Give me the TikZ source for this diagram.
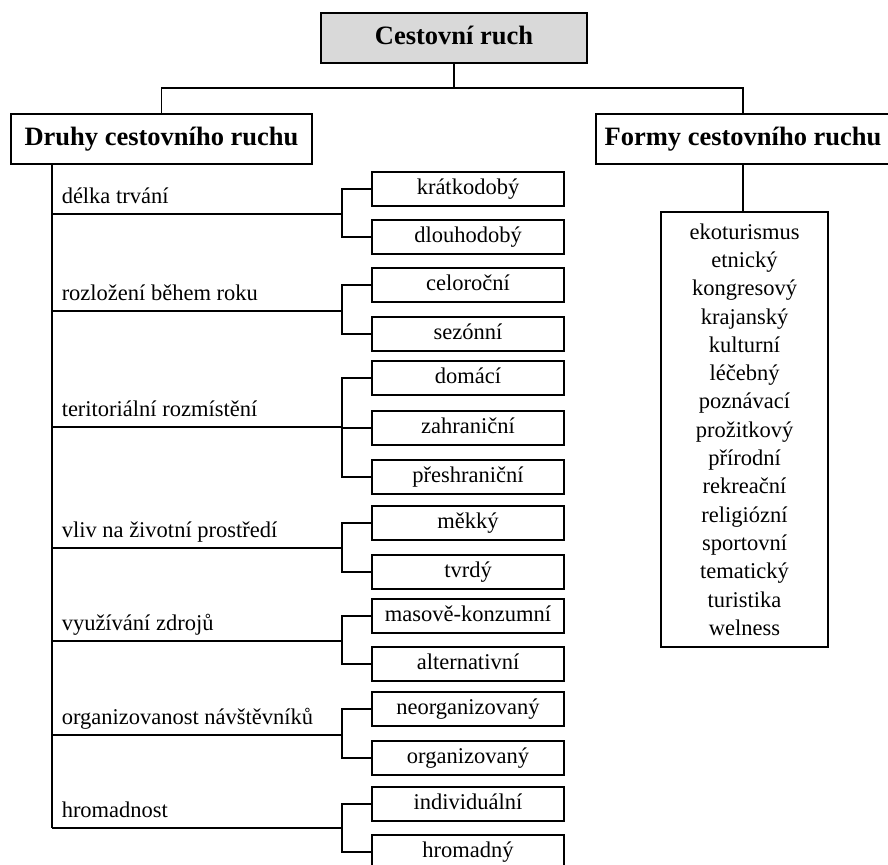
\documentclass[tikz,border=0pt]{standalone}
\usepackage{fontspec}
\setmainfont{Liberation Serif}
\definecolor{boxgray}{RGB}{217,217,217}
\begin{document}
\begin{tikzpicture}[x=1pt,y=-1pt,line width=1.5pt,
  box/.style={draw, line width=1.5pt, inner sep=0pt, minimum height=34pt, minimum width=192pt, text height=16pt, text depth=5pt, font=\fontsize{22.5}{27}\selectfont},
  head/.style={draw, line width=1.5pt, inner sep=0pt, text height=18pt, text depth=5pt, font=\fontsize{26.5}{31}\selectfont\bfseries},
  lab/.style={anchor=base west, inner sep=0pt, font=\fontsize{22.5}{27}\selectfont}]
\useasboundingbox (0,0) rectangle (888,864);
% heads
\node[head, fill=boxgray, minimum width=266pt, minimum height=50pt] (root) at (454,38) {Cestovní ruch};
\node[head, minimum width=301pt, minimum height=50pt] (druhy) at (161.5,139) {Druhy cestovního ruchu};
\node[head, minimum width=294pt, minimum height=50pt] (formy) at (743,139) {Formy cestovního ruchu};
\coordinate (jn) at (454,88);
\draw (root.south) -- (jn);
\draw (druhy.north) |- (jn) -| (formy.north);
% forms list
\node[draw, line width=1.5pt, inner sep=0pt, minimum width=167pt, minimum height=435pt, align=center,
  font=\fontsize{22.5}{28.3}\selectfont] (list) at (744.5,429.5)
  {ekoturismus\\etnický\\kongresový\\krajanský\\kulturní\\léčebný\\poznávací\\prožitkový\\přírodní\\rekreační\\religiózní\\sportovní\\tematický\\turistika\\welness};
\draw (formy.south) -- (formy.south |- list.north);
% trunk
\coordinate (t0) at (52,164);
\coordinate (t1) at (52,828);
\draw (t0) -- (t1);
% categories
\coordinate (c1) at (52,214); \coordinate (b1) at (342,214);
\coordinate (c2) at (52,311); \coordinate (b2) at (342,311);
\coordinate (c3) at (52,427); \coordinate (b3) at (342,427);
\coordinate (c4) at (52,548); \coordinate (b4) at (342,548);
\coordinate (c5) at (52,641); \coordinate (b5) at (342,641);
\coordinate (c6) at (52,735); \coordinate (b6) at (342,735);
\coordinate (c7) at (52,828); \coordinate (b7) at (342,828);
\node[lab] (l1) at (61,203) {délka trvání};
\node[lab] (l2) at (61,300) {rozložení během roku};
\node[lab] (l3) at (61,416) {teritoriální rozmístění};
\node[lab] (l4) at (61,537) {vliv na životní prostředí};
\node[lab] (l5) at (61,630) {využívání zdrojů};
\node[lab] (l6) at (61,724) {organizovanost návštěvníků};
\node[lab] (l7) at (61,817) {hromadnost};
\foreach \i in {1,...,7} \draw (c\i) -- (b\i);
% leaf boxes
\node[box] (k11) at (468,189) {krátkodobý};
\node[box] (k12) at (468,237) {dlouhodobý};
\node[box] (k21) at (468,285) {celoroční};
\node[box] (k22) at (468,334) {sezónní};
\node[box] (k31) at (468,378) {domácí};
\node[box] (k32) at (468,428) {zahraniční};
\node[box] (k33) at (468,477) {přeshraniční};
\node[box] (k41) at (468,523) {měkký};
\node[box] (k42) at (468,572) {tvrdý};
\node[box] (k51) at (468,616) {masově-konzumní};
\node[box] (k52) at (468,664) {alternativní};
\node[box] (k61) at (468,709) {neorganizovaný};
\node[box] (k62) at (468,758) {organizovaný};
\node[box] (k71) at (468,804) {individuální};
\node[box] (k72) at (468,852) {hromadný};
\draw (b1) |- (k11.west); \draw (b1) |- (k12.west);
\draw (b2) |- (k21.west); \draw (b2) |- (k22.west);
\draw (b3) |- (k31.west); \draw (b3) |- (k32.west); \draw (b3) |- (k33.west);
\draw (b4) |- (k41.west); \draw (b4) |- (k42.west);
\draw (b5) |- (k51.west); \draw (b5) |- (k52.west);
\draw (b6) |- (k61.west); \draw (b6) |- (k62.west);
\draw (b7) |- (k71.west); \draw (b7) |- (k72.west);
\end{tikzpicture}
\end{document}
